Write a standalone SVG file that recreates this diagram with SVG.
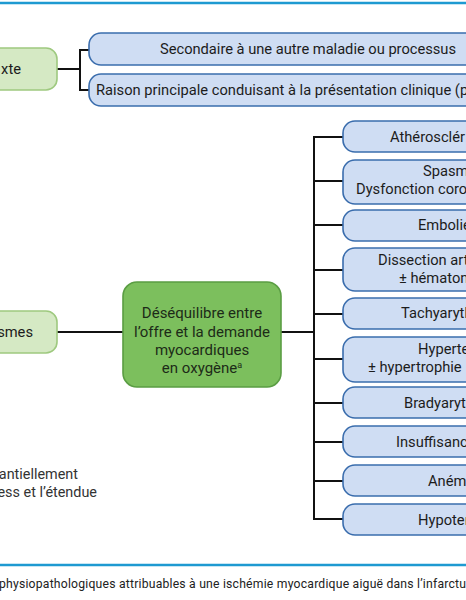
<svg xmlns="http://www.w3.org/2000/svg" width="466" height="600" viewBox="0 0 466 600">
<style>
.bx{fill:#cfddf3;stroke:#3a6dad;stroke-width:1.6}
.gl{fill:#d5e9c4;stroke:#9ec97f;stroke-width:1.6}
.gc{fill:#7cbf5d;stroke:#5a9d43;stroke-width:1.6}
.t{font-family:Roboto,"Liberation Sans",sans-serif;font-size:14.7px;fill:#1c1c1c}
.tc{font-family:Roboto,"Liberation Sans",sans-serif;font-size:15px;fill:#1d2b18;text-anchor:middle}
.tn{font-family:Roboto,"Liberation Sans",sans-serif;font-size:14.4px;fill:#333}
.cap{font-family:Roboto,"Liberation Sans",sans-serif;font-size:12.2px;fill:#222}
.c{stroke:#111;stroke-width:2;fill:none}
.rule{stroke:#1e9ad1;stroke-width:2.5}
</style>
<rect width="466" height="600" fill="#fff"/>
<line class="rule" x1="0" y1="3" x2="466" y2="3"/>
<line class="rule" x1="0" y1="565" x2="466" y2="565"/>

<g id="connectors">
<path class="c" d="M57,69 H80 M90,50 H80 V90 H90"/>
<path class="c" d="M57,332 H123 M281,332 H314"/>
<path class="c" d="M343,137 H314 V519 H343 M314,181 H343 M314,225 H343 M314,270 H343 M314,314 H343 M314,359 H343 M314,403 H343 M314,442 H343 M314,481 H343"/>
</g>

<g id="contexte"><rect class="gl" x="-20" y="48" width="77" height="42" rx="11"/><text class="t" x="21" y="74" text-anchor="end">xte</text></g>
<g id="secondaire"><rect class="bx" x="89" y="33" width="400" height="32" rx="12"/><text class="t" x="160" y="54" textLength="296">Secondaire à une autre maladie ou processus</text></g>
<g id="raison"><rect class="bx" x="89" y="74" width="400" height="32" rx="12"/><text class="t" x="96" y="95">Raison principale conduisant à la présentation clinique (p</text></g>

<g id="mecanismes"><rect class="gl" x="-20" y="311" width="77" height="42" rx="11"/><text class="t" x="33" y="337" text-anchor="end">smes</text></g>

<g id="desequilibre"><rect class="gc" x="123" y="282" width="158" height="105" rx="14"/>
<text class="tc" x="202" y="318">Déséquilibre entre</text>
<text class="tc" x="202" y="337">l’offre et la demande</text>
<text class="tc" x="202" y="355">myocardiques</text>
<text class="tc" x="202" y="373">en oxygène<tspan font-size="9" dy="-5">a</tspan></text>
</g>

<g id="atherosclerose"><rect class="bx" x="343" y="121" width="150" height="31" rx="12"/><text class="t" x="390" y="142">Athérosclér</text></g>
<g id="spasme"><rect class="bx" x="343" y="160" width="150" height="44" rx="12"/><text class="t" x="423" y="176">Spasm</text><text class="t" x="356" y="194">Dysfonction coron</text></g>
<g id="embolie"><rect class="bx" x="343" y="210" width="150" height="31" rx="12"/><text class="t" x="418" y="230">Embolie</text></g>
<g id="dissection"><rect class="bx" x="343" y="248" width="150" height="43" rx="12"/><text class="t" x="378" y="265">Dissection art</text><text class="t" x="399" y="283">± hématon</text></g>
<g id="tachyarythmie"><rect class="bx" x="343" y="298" width="150" height="31" rx="12"/><text class="t" x="401" y="318">Tachyaryth</text></g>
<g id="hypertension"><rect class="bx" x="343" y="337" width="150" height="45" rx="12"/><text class="t" x="418" y="354">Hyperte</text><text class="t" x="368" y="372">± hypertrophie</text></g>
<g id="bradyarythmie"><rect class="bx" x="343" y="387" width="150" height="31" rx="12"/><text class="t" x="404" y="408">Bradyaryt</text></g>
<g id="insuffisance"><rect class="bx" x="343" y="426" width="150" height="31" rx="12"/><text class="t" x="396" y="447">Insuffisanc</text></g>
<g id="anemie"><rect class="bx" x="343" y="465" width="150" height="31" rx="12"/><text class="t" x="428" y="486">Aném</text></g>
<g id="hypotension"><rect class="bx" x="343" y="504" width="150" height="31" rx="12"/><text class="t" x="418" y="525">Hypoten</text></g>

<text class="tn" x="78" y="479" text-anchor="end">antiellement</text>
<text class="tn" x="97" y="497" text-anchor="end">ess et l’étendue</text>
<text class="cap" x="-1" y="588" textLength="467">physiopathologiques attribuables à une ischémie myocardique aiguë dans l’infarctu</text>
</svg>
